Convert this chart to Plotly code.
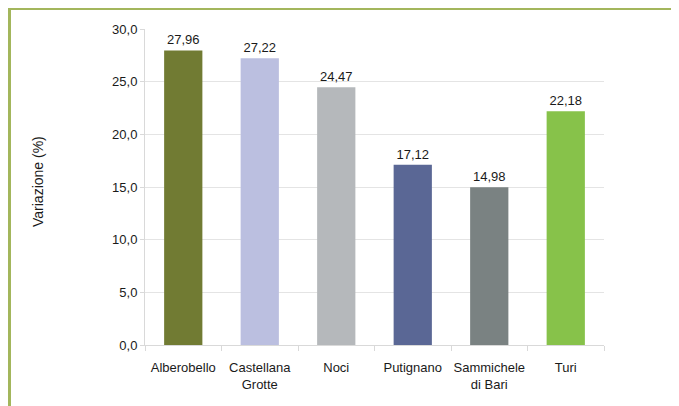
import plotly.graph_objects as go

categories = ["Alberobello", "Castellana<br>Grotte", "Noci", "Putignano", "Sammichele<br>di Bari", "Turi"]
values = [27.96, 27.22, 24.47, 17.12, 14.98, 22.18]
colors = ["#717b33", "#bbbfe0", "#b5b8bb", "#5a6795", "#7a8282", "#87c24a"]
y_title = "Variazione (%)"

OFF = 8  # page body margin
W, H = 679 - OFF, 406 - OFF
L, T = 145 - OFF, 29 - OFF
pw, ph = 459, 316
R, B = W - L - pw, H - T - ph

fig = go.Figure(go.Bar(
    x=categories, y=values,
    marker=dict(color=colors, line=dict(width=0)),
    text=values, texttemplate="%{y:.2f}", textposition="outside",
    textfont=dict(size=13, color="#1a1a1a"),
    cliponaxis=False,
))

def px_x(p):
    return (p - OFF - L) / pw

def px_y(p):
    return (H - B - (p - OFF)) / ph

fig.update_layout(
    width=W, height=H,
    margin=dict(l=L, r=R, t=T, b=B, pad=0, autoexpand=False),
    paper_bgcolor="white", plot_bgcolor="white",
    separators=",.",
    font=dict(family="Liberation Sans, Arial, sans-serif", size=13, color="#1a1a1a"),
    bargap=0.5,
    showlegend=False,
    xaxis=dict(
        showline=True, linecolor="#d9d9d9", linewidth=1,
        ticks="outside", ticklen=5, tickcolor="#d9d9d9", tickson="boundaries",
        ticklabelstandoff=10, tickangle=0, automargin=False,
        showgrid=False, tickfont=dict(size=13, color="#1a1a1a"),
    ),
    yaxis=dict(
        range=[0, 30], dtick=5, tickformat=".1f", automargin=False,
        showline=True, linecolor="#d9d9d9", linewidth=1,
        ticks="outside", ticklen=4, tickcolor="#d9d9d9",
        showgrid=True, gridcolor="#e4e4e4", gridwidth=1,
        zeroline=False, tickfont=dict(size=13, color="#1a1a1a"),
    ),
    annotations=[dict(
        text=y_title, textangle=-90, xref="paper", yref="paper",
        x=px_x(38), y=px_y(182), xanchor="center", yanchor="middle",
        showarrow=False, font=dict(size=14, color="#1a1a1a"),
    )],
    shapes=[
        dict(type="line", xref="paper", yref="paper",
             x0=px_x(9.5), x1=px_x(679 + 5), y0=px_y(8.5), y1=px_y(8.5),
             line=dict(color="#a3b65c", width=3)),
        dict(type="line", xref="paper", yref="paper",
             x0=px_x(9.5), x1=px_x(9.5), y0=px_y(7), y1=px_y(406 + 5),
             line=dict(color="#a3b65c", width=3)),
    ],
)

fig.write_html("out.html")
